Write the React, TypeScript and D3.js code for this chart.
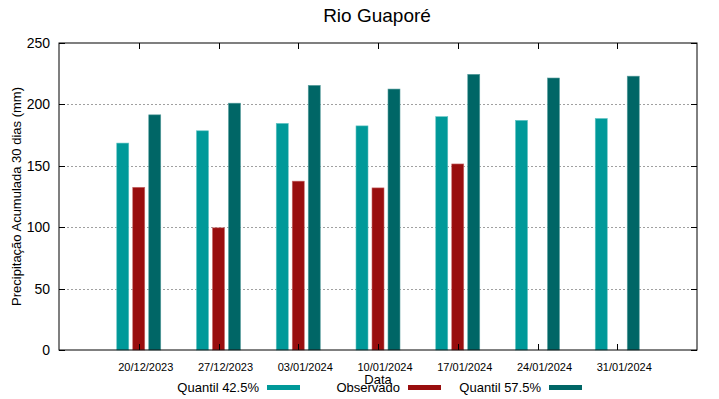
import * as d3 from 'd3';
import { useEffect, useRef } from 'react';

const datas = ['20/12/2023', '27/12/2023', '03/01/2024', '10/01/2024', '17/01/2024', '24/01/2024', '31/01/2024'];
const q425 = [168.5, 178.5, 184.5, 182.5, 190, 187, 188.5];
const observado: (number | null)[] = [132.5, 99.5, 137.5, 132, 151.5, null, null];
const q575 = [191.5, 201, 215.5, 212.5, 224.5, 221.5, 223];
const yTicks = [0, 50, 100, 150, 200, 250];

const series = [
  { nome: 'Quantil 42.5%', valores: q425, cor: '#009999', borda: '#5fc4c4' },
  { nome: 'Observado', valores: observado, cor: '#990e0e', borda: '#c86a6a' },
  { nome: 'Quantil 57.5%', valores: q575, cor: '#006666', borda: '#5a9f9f' },
];

const App = () => {
  const svgRef = useRef<SVGSVGElement>(null);
  const width = 719, height = 399;
  const margin = { top: 43, right: 22, bottom: 49, left: 59 };
  const boundsW = width - margin.left - margin.right;
  const boundsH = height - margin.top - margin.bottom;
  const font = 'Liberation Sans, Arial, sans-serif';

  useEffect(() => {
    const svg = d3.select(svgRef.current);
    svg.selectAll('*').remove();

    const x = d3.scaleLinear().domain([-1, datas.length]).range([0, boundsW]);
    const y = d3.scaleLinear().domain([0, 250]).range([boundsH, 0]);
    const barW = 12, gap = 16;

    const g = svg.append('g').attr('transform', `translate(${margin.left},${margin.top})`);

    // grid
    g.selectAll('line.grid').data(yTicks.filter(t => t > 0 && t < 250)).join('line')
      .attr('x1', 0).attr('x2', boundsW)
      .attr('y1', d => Math.round(y(d)) + 0.5).attr('y2', d => Math.round(y(d)) + 0.5)
      .attr('stroke', '#a0a0a0').attr('stroke-width', 1).attr('stroke-dasharray', '2,2');

    // bars
    series.forEach((s, si) => {
      s.valores.forEach((v, i) => {
        if (v == null) return;
        const cx = x(i) + (si - 1) * gap;
        g.append('rect')
          .attr('x', cx - barW / 2).attr('y', y(v))
          .attr('width', barW).attr('height', boundsH - y(v))
          .attr('fill', s.cor).attr('stroke', s.borda).attr('stroke-width', 0.6);
      });
    });

    // frame
    g.append('rect').attr('x', 0).attr('y', 0).attr('width', boundsW).attr('height', boundsH)
      .attr('fill', 'none').attr('stroke', '#000').attr('stroke-width', 1);

    // y ticks (both sides, inward)
    yTicks.forEach(t => {
      const yy = Math.round(y(t)) + 0.5;
      g.append('line').attr('x1', 0).attr('x2', 6).attr('y1', yy).attr('y2', yy).attr('stroke', '#000');
      g.append('line').attr('x1', boundsW - 6).attr('x2', boundsW).attr('y1', yy).attr('y2', yy).attr('stroke', '#000');
      g.append('text').attr('x', -9).attr('y', y(t)).attr('dy', '0.36em')
        .attr('text-anchor', 'end').attr('font-size', 14).attr('font-family', font).text(t);
    });

    // x ticks
    datas.forEach((d, i) => {
      const xx = Math.round(x(i)) + 0.5;
      g.append('line').attr('x1', xx).attr('x2', xx).attr('y1', boundsH).attr('y2', boundsH - 6).attr('stroke', '#000');
      g.append('line').attr('x1', xx).attr('x2', xx).attr('y1', 0).attr('y2', 6).attr('stroke', '#000');
      g.append('text').attr('x', x(i) + 7).attr('y', boundsH + 21)
        .attr('text-anchor', 'middle').attr('font-size', 11).attr('font-family', font).text(d);
    });

    // titles
    svg.append('text').attr('x', 377).attr('y', 22).attr('text-anchor', 'middle')
      .attr('font-size', 19).attr('font-family', font).text('Rio Guaporé');
    svg.append('text').attr('transform', `translate(21,${margin.top + boundsH / 2}) rotate(-90)`)
      .attr('text-anchor', 'middle').attr('font-size', 13).attr('font-family', font)
      .text('Precipitação Acumulada 30 dias (mm)');
    svg.append('text').attr('x', 378).attr('y', 384).attr('text-anchor', 'middle')
      .attr('font-size', 13).attr('font-family', font).text('Data');

    // legend
    const legX = [259, 400, 541];
    series.forEach((s, si) => {
      svg.append('text').attr('x', legX[si]).attr('y', 392).attr('text-anchor', 'end')
        .attr('font-size', 13).attr('font-family', font).text(s.nome);
      svg.append('rect').attr('x', legX[si] + 8).attr('y', 385).attr('width', 33).attr('height', 5)
        .attr('fill', s.cor);
    });
  }, []);

  return (
    <svg ref={svgRef} width={width} height={height}
      style={{ position: 'absolute', left: 0, top: 0, background: '#fff' }} />
  );
};

export default App;
